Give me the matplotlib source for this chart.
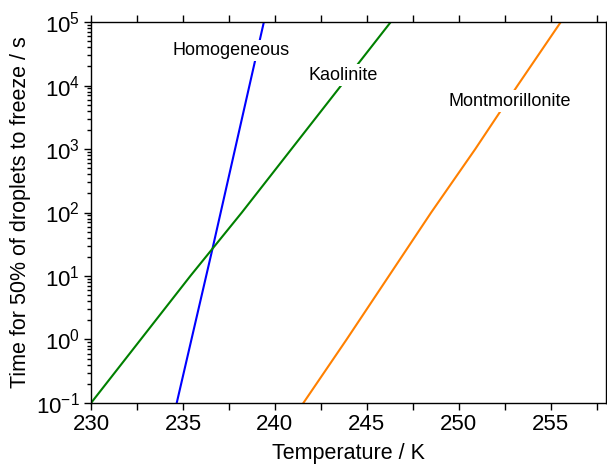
import numpy as np
import matplotlib.pyplot as plt
from matplotlib.ticker import LogLocator, MultipleLocator

plt.rcParams['font.family'] = ['Liberation Sans', 'DejaVu Sans']
plt.rcParams['mathtext.fontset'] = 'custom'
plt.rcParams['mathtext.rm'] = 'Liberation Sans'
plt.rcParams['mathtext.it'] = 'Liberation Sans:italic'

# temperatures (K) and times (s)
homog_T = [234.66, 236.59, 238.19, 239.4]
homog_t = [0.1, 25.7, 2860.0, 1e5]
kaol_T = [230.0, 232.7, 235.4, 238.2, 240.9, 243.6, 246.3]
kaol_t = [0.1, 1.0, 10.0, 100.0, 1000.0, 1e4, 1e5]
mont_T = [241.55, 243.9, 246.2, 248.5, 250.9, 253.2, 255.55]
mont_t = [0.1, 1.0, 10.0, 100.0, 1000.0, 1e4, 1e5]

labels = ['Homogeneous', 'Kaolinite', 'Montmorillonite']
label_pos = [(237.6, 3.6e4), (243.7, 1.46e4), (252.8, 5.7e3)]

fig = plt.figure(figsize=(6.07, 4.70), dpi=100)
ax = fig.add_axes([0.150, 0.1426, 0.848, 0.8104])

ax.plot(homog_T, homog_t, color='#0000ff', lw=1.5)
ax.plot(kaol_T, kaol_t, color='#008000', lw=1.5)
ax.plot(mont_T, mont_t, color='#ff8000', lw=1.5)

for txt, (x, y) in zip(labels, label_pos):
    ax.text(x, y, txt, fontsize=13, ha='center', va='center',
            bbox=dict(facecolor='white', edgecolor='none', pad=1.5))

ax.set_yscale('log')
ax.set_xlim(230, 258)
ax.set_ylim(0.1, 1e5)
ax.xaxis.set_major_locator(MultipleLocator(5))
ax.xaxis.set_minor_locator(MultipleLocator(2.5))
ax.yaxis.set_major_locator(LogLocator(base=10, numticks=10))
ax.yaxis.set_minor_locator(LogLocator(base=10, subs=np.arange(2, 10), numticks=10))

ax.tick_params(which='both', direction='out', top=True, right=True,
               labelsize=16, width=1, pad=3)
ax.tick_params(which='major', length=5)
ax.tick_params(which='minor', length=3)
ax.tick_params(axis='x', which='minor', length=5)
for s in ax.spines.values():
    s.set_linewidth(1)

ax.set_xlabel('Temperature / K', fontsize=15.5, labelpad=6)
ax.set_ylabel('Time for 50% of droplets to freeze / s', fontsize=15.5, labelpad=4)

fig.savefig('out.png', dpi=100)
